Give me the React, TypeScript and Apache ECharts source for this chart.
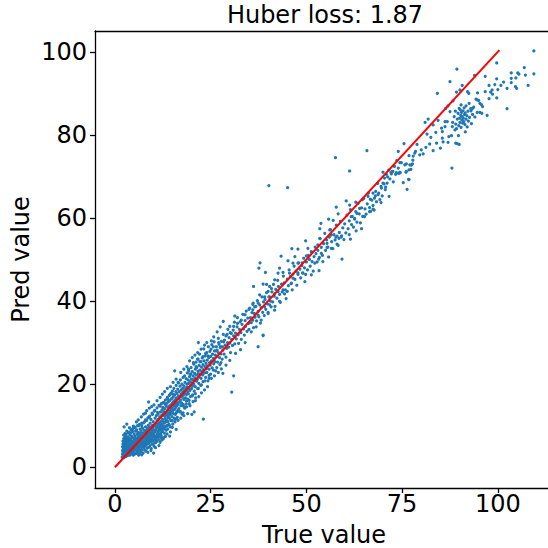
import React, { useEffect, useRef } from "react";
import * as echarts from "echarts";

const titleText = "Huber loss: 1.87";
const xName = "True value";
const yName = "Pred value";
const xTicks = [0, 25, 50, 75, 100];
const yTicks = [0, 20, 40, 60, 80, 100];
const identityLine = [[0, 0], [100.4, 100.4]];

const outliers = [
  [10.1,3.4],[23.1,11.6],[30.5,18.1],[31,22],[28.2,22.6],[37.4,29],[38.7,31.7],[15.6,23.2],[8.8,15.7],[28.3,35.1],[21.8,30],
  [3.1,10.4],[2.4,9.7],[16,9.1],[14.3,7.5],[13.2,7.4],[20.1,12.7],[20.7,13.3],[15.7,10.9],[17.8,13.1],[18.7,14.5],[24.6,21.4],[31.3,36.4],
  [57.6,74.5],[40.2,67.8],[45.1,67.3],[61.3,71.3],[65.8,76.2],[59.3,50.1],[37.9,49.2],[37.6,47.9],[39.3,46.9],[43.4,50.8],[46.2,52.6],[47.8,52.5],[38.7,31.8],[36.2,43.5],[76.3,66.9],[75.3,68.5],[76.8,69.2],[71.6,65.2],[69.5,63.7],[64.4,57.4],[63,56.9],[61.5,54.9],[61.2,56],
];

const midDetail = [
  [70.4,69.6],[71.1,68.4],[70,68.4],[70.7,67.4],[69.6,67.2],[68.1,66.4],[67.4,66],[68.7,65.6],[67.8,64.8],[66.7,64.5],[66.1,65.2],[64.6,64.4],[62.9,63.8],[63.9,62.3],[63.2,61.1],[62.6,59.9],[61.7,60.3],[65.2,60.3],[66.5,61.5],[67.4,62.1],[60.4,64.1],[61.3,63.1],[57.8,62.6],[58.3,61],[55.8,59.7],[57,59.4],[53.8,58.7],[53.5,57.4],[56.1,57.1],[56.5,55.9],[57.7,55.4],[58.5,55.1],[59.1,55.4],[55.4,53.9],[55.4,52.9],[56.5,52.7],[58,53.7],[53.5,55.1],[53,53.5],[53.9,51.5],[54.3,49.5],[53.2,50.1],[52.2,49.1],[51.3,46.3],[53.3,47.3],[49.8,54.5],[50.4,52.7],[51.3,51.9],[50,50.9],[48.9,49.2],[47,50.7],[45.2,49.7],[47.8,49.1],[46.5,49.1],[43,47.9],[42.6,46.7],[41.7,45.1],[43.9,46.9],[45.6,46.7],[46.5,45.5],[46.1,44.3],[49.6,44.7],[49.1,46.7],[47.8,46.8],[45,42.3],[44.3,41.7],[43.9,42.7],[42.6,42.3],[41.7,41.7],[40,42.3],[38.7,44.1],[39.6,44],[40.9,43],[40.4,41],[39.1,41],[37.8,41.5],[37.4,39.5],[36.5,38.6],[36.1,39.5],[39.1,38.6],[40.4,39.1],[41.7,37.8],[40,37],[38.2,35.4],[36.9,33.8],[35.6,32.6],[37.4,36.6],[43,39.9],
  [72.6,71.2],[72.2,70.6],[73.5,70.9],[74.5,70.9],[76.1,71.2],[74.8,73.3],[76.1,73],[77.4,72.7],[77.8,73.9],[76.8,71.6],[78.3,75.6],
];

const bandSpread = [
  [4.8,9.9],[5.6,10.9],[6.1,11.4],[6.9,12.1],[7.5,12.8],[8,13],[8.3,13.6],[9,14.2],[9.6,14.6],[10.2,15],[11,16],[11.8,16.8],[12.4,17.6],[13,18.2],[13.7,19],[14.5,19.4],[15.2,20.4],[16,21.2],[16.5,20.4],[17.2,22.8],[18,23.6],[18.8,24.2],[19.5,25.6],[20.2,26.4],[20.9,27],[21.6,27.6],[22.5,28.4],[23.4,29.4],[24,30],[25.2,30.4],[25.8,31.4],[26.7,32.6],[27.5,33.8],
  [6.2,2.9],[7,3],[8.6,3.6],[9.4,4],[10.6,4.7],[11.5,5.2],[12.2,6.5],[12.7,7.1],[13.6,8],[14.5,8.5],[15,9.6],[16.5,11.3],[17.2,11.8],[18,12.4],[19,12.9],[19.6,14.8],[20.4,15.8],[21,16],[21.9,17],[22.6,17.9],[23.4,18.6],[24.2,19.4],[25.2,21.4],[26,22],[27,22.8],[27.8,23.7],[29,24.6],[30,25.7],[31.5,27.4],[32.8,28.3],[34,30],
  [19.2,23.6],[19.6,22.4],[20.5,25.2],[21.2,24.2],[21.6,26],[22.2,25.4],[23,26.6],[23.7,27.4],[24.3,26.8],[25.1,28.4],[25.7,29],[26.4,28],[27.1,30],[27.6,29],[28.4,30.2],[29.3,32],[30.1,32.4],[31,33.9],[32,34.6],[33,35.4],[34,36.7],[35,38],[36,37.9],
  [3.6,8.4],[4.2,8.9],[4.7,9.3],[5.3,9.5],[5.9,10],[6.4,10.3],[7,10],[7.5,10.7],[8,11.4],[8.6,11.9],[9.1,12.3],[9.7,13],[10.4,13.7],[11.1,13.2],[11.8,14.7],[12.5,15.5],[13.1,15.2],[13.8,16.4],[14.4,17.5],[15.1,17.6],
  [8.2,6.1],[9.2,6.9],[10,5.6],[10.7,6.4],[11.4,7.2],[12.1,7.6],[12.9,9.2],[13.5,9.9],[14.2,10.1],[15,11.2],[15.8,11.5],[16.4,13.6],[17.1,13.4],[17.9,14.7],[18.6,15.2],[19.4,16.1],[20.2,17.2],[21,17.7],[21.8,19],[22.6,19.8],[23.5,20.8],[24.6,22.1],[25.7,23.4],[26.6,24],[27.7,25.2],
];

const bandStart = [
  [1.9,2.4],[2,3.1],[2,4],[2,4.9],[2.1,5.6],[2.1,6.3],[2.1,3.5],[2.2,2.7],[2.2,4.4],[2.2,5.2],[2.3,6.9],[2.3,7.7],[2.3,3.2],[2.4,4],[2.4,5.9],[2.4,2.3],[2.5,6.5],[2.5,4.7],[2.5,3.6],[2.6,8.1],[2.6,5.3],[2.6,2.9],[2.7,7.2],[2.7,4.2],[2.8,6],[2.8,3.3],[2.8,5],[2.9,6.7],[2.9,2.6],[2.9,7.9],[3,4.5],[3,5.6],[3,3.7],[3.1,3],[3.1,6.3],[3.1,8.7],[3.2,5],[3.2,4.1],[3.3,7.3],[3.3,2.8],[3.3,5.9],[3.4,3.6],[3.4,6.6],[3.5,4.6],[3.5,5.3],[3.5,8.3],[3.6,3.1],[3.6,7],[3.7,4],[3.7,6.1],[3.7,2.9],[3.8,5],[3.8,9.5],[3.9,3.5],[3.9,7.7],[3.9,5.6],[4,4.3],[4,6.5],[4,3],[4.1,8.2],[4.1,5.1],[4.2,3.8],[4.2,6.9],[4.3,4.6],[4.3,5.7],[4.4,3.3],[4.4,7.4],[4.4,9.1],[4.5,4.9],[4.5,6.2],[4.6,3.6],[4.6,8.6],[4.7,5.4],[4.7,4.1],[4.8,7],[4.8,2.9],[4.9,6],[4.9,4.7],[5,8],[5,5.2],[5,3.5],[5.1,6.6],[5.1,9.7],[5.2,4.3],[5.2,7.5],[5.3,5.7],[5.3,3.2],[5.4,8.7],[5.4,4.9],[5.5,6.3],[5.5,7],[5.6,4],[5.6,5.5],[5.7,9],[5.7,3.4],[5.8,6.7],[5.8,7.9],[5.9,4.6],[5.9,5.2],[6,8.4],[6,3.8],[6,6.1],[6.1,7.3],[6.2,4.4],[6.2,5.7],[6.2,10],[6.3,6.9],[6.3,3.1],[6.4,8.1],[6.4,5],[6.5,4.2],[6.5,7.6],[6.6,6.3],[6.6,9.2],[6.7,5.4],[6.7,3.6],[6.8,7.1],[6.8,8.6],[6.9,4.8],[6.9,6],[7,5.7],[7,10.6],[7.1,7.8],[7.1,4.1],[7.2,6.6],[7.2,9.4],[7.3,5.2],[7.3,8.2],[7.4,3.4],[7.4,7.2],[7.5,6.1],[7.5,4.7],[7.6,8.9],[7.6,5.6],[7.7,7.5],[7.7,10.9],[7.8,6.4],[7.8,4.2],[7.9,8.4],[7.9,5.1],[8,7],[8,9.7],[8,6],
];

const bandLow = [
  [8.1,3.9],[8.1,7.9],[8.2,5.4],[8.2,8.8],[8.3,6.6],[8.3,11.3],[8.4,7.4],[8.4,4.6],[8.5,9.3],[8.5,6.1],[8.6,8.1],[8.6,5.7],[8.7,10.1],[8.7,7.1],[8.8,6.5],[8.8,4.8],[8.9,8.7],[8.9,12],[9,7.8],[9,5.9],[9,9.7],[9.1,6.9],[9.2,10.6],[9.2,5.2],[9.3,8.3],[9.3,7.4],[9.4,6.2],[9.4,11.5],[9.5,9.1],[9.5,4.5],[9.6,7.9],[9.6,6.7],[9.7,10],[9.7,8.7],[9.8,5.6],[9.8,12.7],[9.9,7.3],[9.9,9.5],[10,8.2],[10,6.4],[10,11],[10.1,10.2],[10.2,7.7],[10.2,5.1],[10.3,9],[10.3,13.5],[10.4,8.5],[10.4,6.9],[10.5,11.8],[10.5,9.9],[10.6,7.5],[10.6,5.9],[10.7,10.6],[10.7,8.9],[10.8,12.4],[10.8,7],[10.9,9.4],[10.9,6.2],[11,11.2],[11,8.1],[11,14.3],[11.1,9.8],[11.2,7.4],[11.2,10.3],[11.3,12.8],[11.3,8.6],[11.4,6.6],[11.4,11.6],[11.5,9.3],[11.5,14.9],[11.6,10.7],[11.6,7.9],[11.7,8.9],[11.7,12.1],[11.8,6],[11.8,10.1],[11.9,13.3],[11.9,9.6],[12,11],[12,8.3],[12.1,15.3],[12.1,7.1],[12.2,12.5],[12.2,10.4],[12.3,9.1],[12.3,13.8],[12.4,11.5],[12.4,8.6],[12.5,14.4],[12.5,10],[12.6,12.9],[12.6,6.8],[12.7,11],[12.7,9.4],[12.8,15.6],[12.8,13.4],[12.9,10.6],[12.9,8.2],[13,12.3],[13,14.1],[13.1,11.7],[13.1,9.8],[13.2,16.2],[13.2,13],[13.3,10.9],[13.4,14.7],[13.4,8.9],[13.5,12.6],[13.5,11.3],[13.6,15.4],[13.6,10.1],[13.7,13.6],[13.7,16.8],[13.8,12],[13.8,9.2],[13.9,14.3],[13.9,11],[14,13],[14,15.8],[14.1,12.4],[14.1,10.3],[14.2,17.3],[14.2,14.7],[14.3,11.7],[14.4,13.5],[14.4,16.1],[14.5,12.8],[14.5,9.7],[14.6,15],[14.6,17.8],[14.7,14],[14.7,11.2],[14.8,13.2],[14.8,16.5],[14.9,12.2],[15,15.4],[15,14.3],[15,18.3],[15.1,10.4],[15.2,13.7],[15.2,16.9],[15.3,12.9],[15.3,15.8],[15.4,14.8],[15.4,19],[15.5,11.8],[15.6,17.4],[15.6,13.9],[15.7,16.2],[15.8,15.1],[15.8,12.7],[15.9,18.2],[15.9,14.4],[16,16.7],[16,19.7],[16.1,15.6],[16.1,13.2],[16.2,17.8],[16.3,14.9],[16.3,12],[16.4,16.4],[16.4,18.8],[16.5,15.3],[16.6,20.3],[16.6,17.2],[16.7,14.1],[16.7,16.8],[16.8,18.2],[16.9,15.7],[16.9,13.3],[17,19.5],[17,17],[17.1,21],[17.1,16.2],[17.2,14.8],[17.3,18.6],[17.3,17.6],[17.4,15.5],[17.5,20],[17.5,12.8],[17.6,16.9],[17.7,19],[17.7,18],[17.8,15.1],[17.8,21.6],[17.9,17.4],[18,19.6],[18,16.3],[18.1,18.4],[18.2,22],[18.2,14.2],[18.3,17.9],[18.3,20.4],[18.4,16.7],[18.5,19.1],[18.5,18.6],[18.6,21.3],[18.7,15.9],[18.7,17.5],[18.8,20],[18.9,22.7],[18.9,19.3],[19,18.2],[19,16.4],[19.1,21],[19.2,20.2],[19.2,17.7],[19.3,23.2],[19.4,19],[19.4,15.3],[19.5,21.8],[19.6,18.5],[19.6,20.6],[19.7,17],[19.8,22.4],[19.8,19.7],
];

const bandMidLow = [
  [19.9,24],[20,21.2],[20,18.9],[20.1,20.3],[20.2,23],[20.3,19.5],[20.3,17.4],[20.4,22],[20.5,21],[20.6,24.8],[20.6,20],[20.7,18.3],[20.8,22.6],[20.9,21.5],[21,23.6],[21,19.4],[21.1,16.7],[21.2,25.3],[21.3,22.2],[21.3,20.7],[21.4,24],[21.5,21.1],[21.6,18.9],[21.7,23.1],[21.7,26],[21.8,22.5],[21.9,20.2],[22,24.5],[22,21.7],[22.1,27.2],[22.2,23.4],[22.3,22.4],[22.4,19.7],[22.5,25.4],[22.5,21.4],[22.6,24.1],[22.7,23],[22.8,26.3],[22.9,22.2],[23,20.6],[23,24.7],[23.1,23.5],[23.2,28.5],[23.3,25.6],[23.4,22.7],[23.5,24.2],[23.6,26.8],[23.7,21.6],[23.8,25],[23.9,23.7],[24,27.6],[24,22.8],[24.1,25.8],[24.2,24.4],[24.3,20.8],[24.4,29],[24.5,26.4],[24.6,23.6],[24.7,25.2],[24.8,27.9],[24.9,24.6],[25,22.4],[25,26.7],[25.2,25.6],[25.3,29.5],[25.4,23.9],[25.5,27.2],[25.7,26.2],[25.8,24.9],[25.9,30.2],[26,28],[26.1,25.4],[26.2,27],[26.3,23.2],[26.5,29],[26.6,26.7],[26.7,28.2],[26.8,25.3],[27,27.6],[27,31],[27.2,29.6],[27.3,26.4],[27.4,24.7],[27.5,28.8],[27.7,27.3],[27.8,30.3],[28,26],[28.1,29],[28.2,28.2],[28.3,32],[28.5,27.2],[28.6,30.6],[28.8,29.4],[29,26.5],[29,31.6],[29.2,28.6],[29.4,30],[29.5,33.2],[29.7,28.9],[29.8,31.2],[30,29.9],[30,33.9],[30.2,27.6],[30.4,32.2],[30.5,30.8],[30.7,29.3],[30.9,33],[31,31.6],[31.2,34.9],[31.3,29.7],[31.5,32.3],[31.7,30.9],[31.9,33.8],[32,36],[32.2,31.9],[32.3,29.8],[32.5,33.2],[32.7,35],[32.9,32.4],[33,30.8],[33.2,34.4],[33.4,36.8],[33.6,33.3],[33.8,31.8],[34,35.3],[34.1,33.9],[34.3,37.6],[34.5,32.7],[34.7,35.9],[34.9,34.6],[35,33.2],[35.2,38.3],[35.4,36],[35.6,34.8],[35.8,37.2],[36,35.4],[36,39.2],[36.2,33.6],[36.4,37],[36.6,36.1],[36.8,38.7],[37,35.2],[37.2,40.1],[37.4,37.5],[37.6,36.2],[37.8,39.1],[38,34.7],[38.2,38.4],[38.4,41],[38.6,37.3],[38.8,39.8],[39,36.5],
];

const bandMidHigh = [
  [39.2,40.4],[39.4,38],[39.6,42],[39.8,39.3],[40,37.3],[40.2,41],[40.4,43.5],[40.6,40],[40.8,38.6],[41,42.2],[41.2,39.8],[41.4,44],[41.6,41.2],[41.8,38.7],[42,42.8],[42.3,40.7],[42.5,45],[42.7,43.5],[43,41.6],[43.2,39.7],[43.5,44.1],[43.7,42.2],[44,46],[44.2,44.4],[44.5,42.7],[44.7,40.6],[45,45.3],[45.3,43.7],[45.5,47.5],[45.8,45.9],[46,44.2],[46.3,42.7],[46.5,46.5],[46.8,48.4],[47,45.2],[47.3,47.2],[47.5,43.8],[47.8,46.4],[48,49.2],[48.3,47.7],[48.5,45.6],[48.8,48.5],[49,46.8],[49.3,50.3],[49.5,48],[49.8,46.4],[50,49.4],[50.3,47.5],[50.5,51],[50.8,50],[51,48.4],[51.3,51.8],[51.5,49.5],[51.8,47.2],[52,50.7],[52.3,53],[52.5,51.4],[52.8,49.4],[53,52.2],[53.4,50.5],[53.6,55],[53.9,52.9],[54.2,51],[54.5,53.8],[54.8,56.3],[55,52.2],[55.3,54.7],[55.6,53],[55.8,50.6],[56,55.4],[56.3,57.2],[56.6,54.3],[56.9,52.6],[57.2,56],[57.5,54.7],[57.8,58.3],[58,55.6],[58.3,53.4],[58.6,56.5],[58.9,59.2],[59.2,55.7],[59.5,57.6],[59.8,54.8],[60,58.6],[60.3,56.4],[60.6,60.7],[60.9,57.4],[61.2,59.3],[61.5,62],[61.8,58.4],[62,60.4],[62.3,57.8],[62.6,59.7],[62.9,61.5],[63.2,59],[63.5,63.5],[63.8,61],[64.1,58.8],[64.4,62.4],[64.7,60.4],[65,64.7],[65.3,62.2],[65.6,60.9],[65.9,63.4],[66.2,66],[66.5,62.5],[66.8,61.6],[67.1,64.3],[67.4,63],[67.7,61.9],[68,65.3],[68.3,63.9],[68.6,68.3],[68.9,66],[69.2,64.4],[69.5,67.6],[69.8,65.3],[70,71],[70.3,68.2],[70.6,66.8],[70.9,70.5],[71.2,69.9],[71.5,71.5],[71.8,69.4],[72.1,70.9],[72.4,71.2],[72.7,68.7],[73,72.4],[73.3,70.5],[73.6,73.8],[74,76],[74,72],[74.1,70.7],
];

const bandHigh = [
  [109.4,100.2],[99.7,97.3],[106.9,96.2],[109.4,94.7],[89.3,95.8],[103.5,94.9],[105.2,94.9],[107.2,94.4],[105.5,94.6],[96.7,94.1],[93.9,94.3],[87.5,92.8],[99.7,93.5],[103.5,93.6],[104.7,93.7],[90.7,91.9],[97.7,91.9],[99.2,92.1],[100.8,91.9],[101.5,92.7],[103.5,92.6],[104.6,91.6],[104.9,91.2],[107.9,91.9],[102.4,91.2],[100,90.9],[98.5,90.8],[96.7,90.4],[98.1,90.3],[94.7,90.1],[98.6,89.8],[92.1,90.4],[92.4,90],[90.1,90.8],[89.2,90.3],[84.2,90],
  [74.4,73.3],[75.7,72.8],[77,72.8],[77.7,73],[77.3,71.7],[76,71],[74.4,71],[76.7,69.3],[88,72],[75.5,77.9],[76.8,75],[77.9,74.9],[78.5,76],[78.9,77.7],[79.6,75.2],[80.5,75.4],[80,76.4],[81.2,77],[82.2,77.8],[83.1,76.2],[85,76.8],[84,78],[85.7,78.3],[87,78.2],[89,78],[89.9,77.7],[89.4,77.9],[87.2,79.6],[87.9,79.8],[89.7,79.8],[91.5,80.7],[83.8,80.6],[85.5,79.2],[82.5,79.4],[81.5,80.2],[85.5,80.8],[85.3,81.6],[86.2,82],[83.1,82.4],[81,83],[81.8,83.8],[84.4,83.5],[86.2,83.2],[86.8,83.2],[88.1,82],[88.8,81.2],
  [88.2,83],[88.6,84.4],[89,82.6],[89.2,81.5],[89.4,83.8],[89.6,85.2],[89.8,82.2],[90,84],[90.1,83],[90.2,86],[90.3,84.7],[90.4,81.8],[90.5,85.4],[90.6,83.6],[90.7,84.4],[90.8,82.8],[90.9,85.8],[91,84],[91.1,83.2],[91.2,86.5],[91.3,84.9],[91.4,82.5],[91.5,85.3],[91.7,83.8],[91.9,84.6],[92,81.9],[92.2,85.7],[92.3,83.3],[92.6,84.2],[92.9,86.3],[93.1,82.7],[93.4,84.9],[89.9,86.4],[88.9,85.7],
  [97.2,84.7],[102.4,86.3],[95.3,85.4],[94.6,85.4],[94,84.3],[95.8,85.2],[93.4,86.4],[93.7,86.7],[91.7,87],[90.4,87.2],[88.3,88.2],[87,87],[86.4,86.4],[87.5,85.6],[94.6,88.4],[95.3,87.6],[94.3,88.6],[95,88.3],[95.7,87.3],[97.7,88.7],[99.7,88.9],[96,86.8],[92.5,87.6],[93,85.8],
];

export default function App() {
  const ref = useRef<HTMLDivElement>(null);
  useEffect(() => {
    document.body.style.margin = "0";
    const chart = echarts.init(ref.current!, undefined, { renderer: "svg" });
    const font = "DejaVu Sans";
    const axisCommon = {
      type: "value" as const,
      nameLocation: "middle" as const,
      nameMoveOverlap: false,
      nameTextStyle: { fontFamily: font, fontSize: 24, color: "#000", lineHeight: 20 },
      splitLine: { show: false },
      axisLine: { show: true, onZero: false, lineStyle: { color: "#000", width: 1.3 } },
      axisTick: { show: true, length: 5, lineStyle: { color: "#000", width: 1.3 } },
      axisLabel: { fontFamily: font, fontSize: 24, color: "#000", margin: 8, showMinLabel: true, showMaxLabel: true },
    };
    chart.setOption({
      animation: false,
      backgroundColor: "#fff",
      title: {
        text: titleText,
        left: 320,
        top: -2,
        textAlign: "center",
        textStyle: { fontFamily: font, fontSize: 24, fontWeight: "normal", color: "#000" },
      },
      grid: { left: 95, right: -5, top: 31, bottom: 60, outerBoundsMode: "none", show: false },
      xAxis: [
        {
          ...axisCommon,
          name: xName,
          nameGap: 37,
          min: -5.2,
          max: 114.4,
          axisTick: { ...axisCommon.axisTick, customValues: xTicks },
          axisLabel: { ...axisCommon.axisLabel, margin: 4, customValues: xTicks },
        },
        {
          type: "value",
          position: "top",
          min: -5.2,
          max: 114.4,
          splitLine: { show: false },
          axisLine: { show: true, onZero: false, lineStyle: { color: "#000", width: 1.3 } },
          axisTick: { show: false },
          axisLabel: { show: false },
        },
      ],
      yAxis: {
        ...axisCommon,
        name: yName,
        nameGap: 64,
        min: -5,
        max: 105,
        axisTick: { ...axisCommon.axisTick, customValues: yTicks },
        axisLabel: { ...axisCommon.axisLabel, customValues: yTicks },
      },
      series: [
        {
          type: "scatter",
          xAxisIndex: 0,
          symbolSize: 3.2,
          itemStyle: { color: "#1f77b4", opacity: 1 },
          data: [...bandStart, ...bandLow, ...bandSpread, ...bandMidLow, ...midDetail, ...bandMidHigh, ...bandHigh, ...outliers],
        },
        {
          type: "line",
          xAxisIndex: 0,
          data: identityLine,
          showSymbol: false,
          symbol: "none",
          lineStyle: { color: "#ff0000", width: 2 },
          z: 5,
        },
      ],
    });
    return () => chart.dispose();
  }, []);
  return <div ref={ref} style={{ width: 548, height: 548 }} />;
}
